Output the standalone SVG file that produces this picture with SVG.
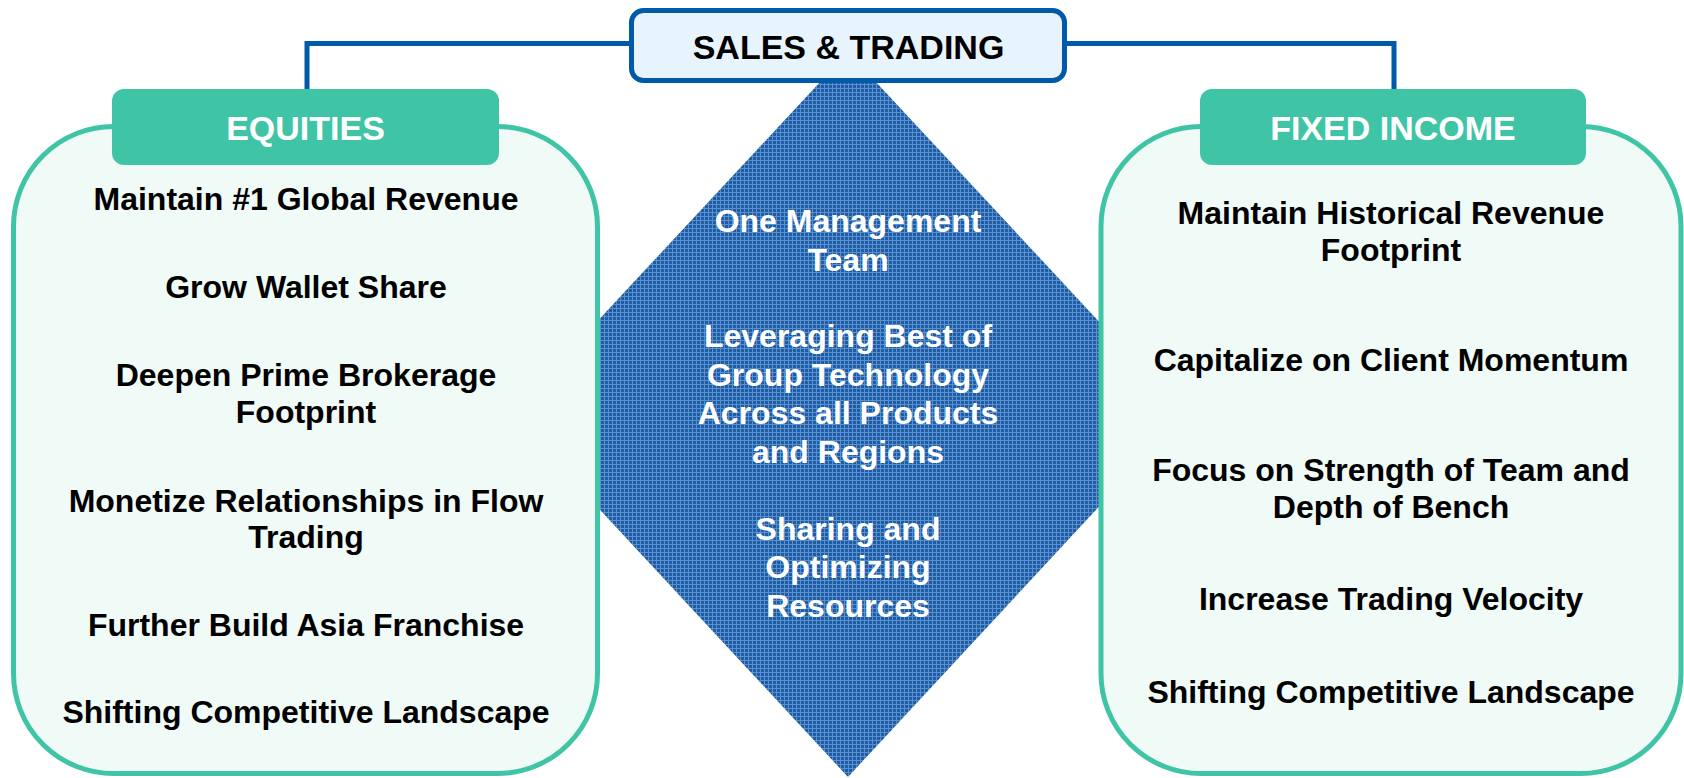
<svg xmlns="http://www.w3.org/2000/svg" width="1684" height="778" viewBox="0 0 1684 778">
<defs>
<pattern id="grid" width="4" height="4" patternUnits="userSpaceOnUse">
<rect width="4" height="4" fill="#1E5CA6"/>
<rect x="0" y="0" width="1" height="4" fill="#5A90CC"/>
<rect x="0" y="0" width="4" height="1" fill="#5A90CC"/>
</pattern>
</defs>
<style>
.panel{fill:#F0FAF7;stroke:#40C4A6;stroke-width:5}
.hdr{fill:#40C4A6}
.hdrt{font-family:"Liberation Sans",Arial,sans-serif;font-weight:bold;font-size:34px;fill:#fff;text-anchor:middle}
.t{font-family:"Liberation Sans",Arial,sans-serif;font-weight:bold;font-size:32px;fill:#000;text-anchor:middle}
.dt{font-family:"Liberation Sans",Arial,sans-serif;font-weight:bold;font-size:32px;fill:#fff;text-anchor:middle}
.conn{fill:none;stroke:#005AAA;stroke-width:5}
</style>
<g id="diamond">
<polygon points="848,52 1185,414 848,777 511,414" fill="url(#grid)"/>
<text class="dt" x="848" y="232">One Management</text>
<text class="dt" x="848" y="270.5">Team</text>
<text class="dt" x="848" y="347">Leveraging Best of</text>
<text class="dt" x="848" y="385.5">Group Technology</text>
<text class="dt" x="848" y="424">Across all Products</text>
<text class="dt" x="848" y="462.5">and Regions</text>
<text class="dt" x="848" y="539.5">Sharing and</text>
<text class="dt" x="848" y="578">Optimizing</text>
<text class="dt" x="848" y="616.5">Resources</text>
</g>
<g id="connectors">
<polyline class="conn" points="632,43.5 307,43.5 307,92"/>
<polyline class="conn" points="1064,43.5 1394,43.5 1394,92"/>
</g>
<g id="equities">
<rect class="panel" x="13.5" y="126.5" width="584" height="647" rx="100" ry="100"/>
<rect class="hdr" x="112" y="89" width="387" height="76" rx="12"/>
<text class="hdrt" x="305.5" y="140">EQUITIES</text>
<text class="t" x="306" y="210">Maintain #1 Global Revenue</text>
<text class="t" x="306" y="298">Grow Wallet Share</text>
<text class="t" x="306" y="386">Deepen Prime Brokerage</text>
<text class="t" x="306" y="422.5">Footprint</text>
<text class="t" x="306" y="511.5">Monetize Relationships in Flow</text>
<text class="t" x="306" y="548">Trading</text>
<text class="t" x="306" y="636">Further Build Asia Franchise</text>
<text class="t" x="306" y="723">Shifting Competitive Landscape</text>
</g>
<g id="fixed-income">
<rect class="panel" x="1101" y="126.5" width="580" height="647" rx="100" ry="100"/>
<rect class="hdr" x="1200" y="89" width="386" height="76" rx="12"/>
<text class="hdrt" x="1393" y="140">FIXED INCOME</text>
<text class="t" x="1391" y="224">Maintain Historical Revenue</text>
<text class="t" x="1391" y="261">Footprint</text>
<text class="t" x="1391" y="371">Capitalize on Client Momentum</text>
<text class="t" x="1391" y="480.5">Focus on Strength of Team and</text>
<text class="t" x="1391" y="518">Depth of Bench</text>
<text class="t" x="1391" y="610">Increase Trading Velocity</text>
<text class="t" x="1391" y="703">Shifting Competitive Landscape</text>
</g>
<g id="sales-trading">
<rect x="631.5" y="10.5" width="433" height="70" rx="12" fill="#E8F4FD" stroke="#005AAA" stroke-width="5"/>
<text x="848.5" y="59" font-family="Liberation Sans, Arial, sans-serif" font-weight="bold" font-size="34" fill="#000" text-anchor="middle">SALES &amp; TRADING</text>
</g>
</svg>
